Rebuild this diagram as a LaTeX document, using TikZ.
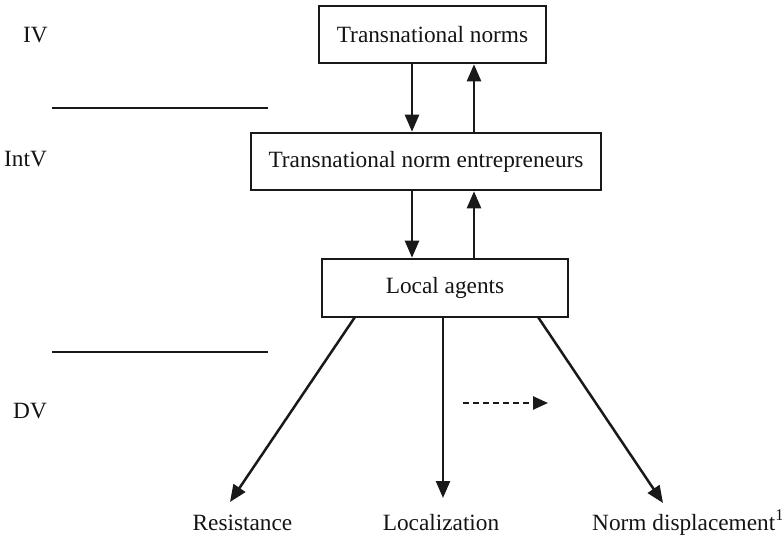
\documentclass[tikz,border=0pt]{standalone}
\usepackage{fontspec}
\setmainfont{Liberation Serif}
\usetikzlibrary{arrows.meta}
\begin{document}
\begin{tikzpicture}[x=1pt,y=-1pt,
  every node/.style={font=\fontsize{23.3}{27}\selectfont, text=black!92},
  box/.style={draw=black!90, line width=2.6pt, inner sep=0pt, fill=white},
  lbl/.style={inner sep=0pt, anchor=base west},
  conn/.style={draw=black!90, line width=2.5pt, -{Triangle[length=17pt,width=14pt]}},
  dconn/.style={draw=black!90, line width=2.5pt, dash pattern=on 6pt off 4pt, -{Triangle[length=15pt,width=13pt]}},
  sep/.style={draw=black!90, line width=2.5pt}]
\useasboundingbox (0,0) rectangle (782,537);
% level labels
\node[lbl] (iv) at (23,43) {IV};
\node[lbl] (intv) at (4,167) {IntV};
\node[lbl] (dv) at (13,418) {DV};
% separators
\coordinate (s1a) at (52,108); \coordinate (s1b) at (268,108);
\coordinate (s2a) at (52,352); \coordinate (s2b) at (268,352);
\draw[sep] (s1a) -- (s1b);
\draw[sep] (s2a) -- (s2b);
% boxes
\node[box, minimum width=227pt, minimum height=57pt] (tn) at (432.5,34.5) {Transnational norms};
\node[box, minimum width=350pt, minimum height=57pt] (tne) at (426,161.5) {Transnational norm entrepreneurs};
\node[box, minimum width=246pt, minimum height=58pt] (la) at (445,288) {Local agents};
% vertical arrows
\draw[conn] (tn.south -| 412,0) -- (tne.north -| 412,0);
\draw[conn] (tne.north -| 474,0) -- (tn.south -| 474,0);
\draw[conn] (tne.south -| 412,0) -- (la.north -| 412,0);
\draw[conn] (la.north -| 474,0) -- (tne.south -| 474,0);
% outcome labels
\node[inner sep=0pt, anchor=base] (res) at (242.5,530) {Resistance};
\node[inner sep=0pt, anchor=base] (loc) at (441,530) {Localization};
\node[lbl] (disp) at (592,530) {Norm displacement\textsuperscript{1}};
% outcome arrows
\coordinate (o1) at (355,317); \coordinate (t1) at (230,502);
\coordinate (o2) at (443,317); \coordinate (t2) at (443,498);
\coordinate (o3) at (538,317); \coordinate (t3) at (663,503);
\draw[conn] (o1) -- (t1);
\draw[conn] (o2) -- (t2);
\draw[conn] (o3) -- (t3);
% dashed arrow
\coordinate (d1) at (463,403); \coordinate (d2) at (548,403);
\draw[dconn] (d1) -- (d2);
\end{tikzpicture}
\end{document}
